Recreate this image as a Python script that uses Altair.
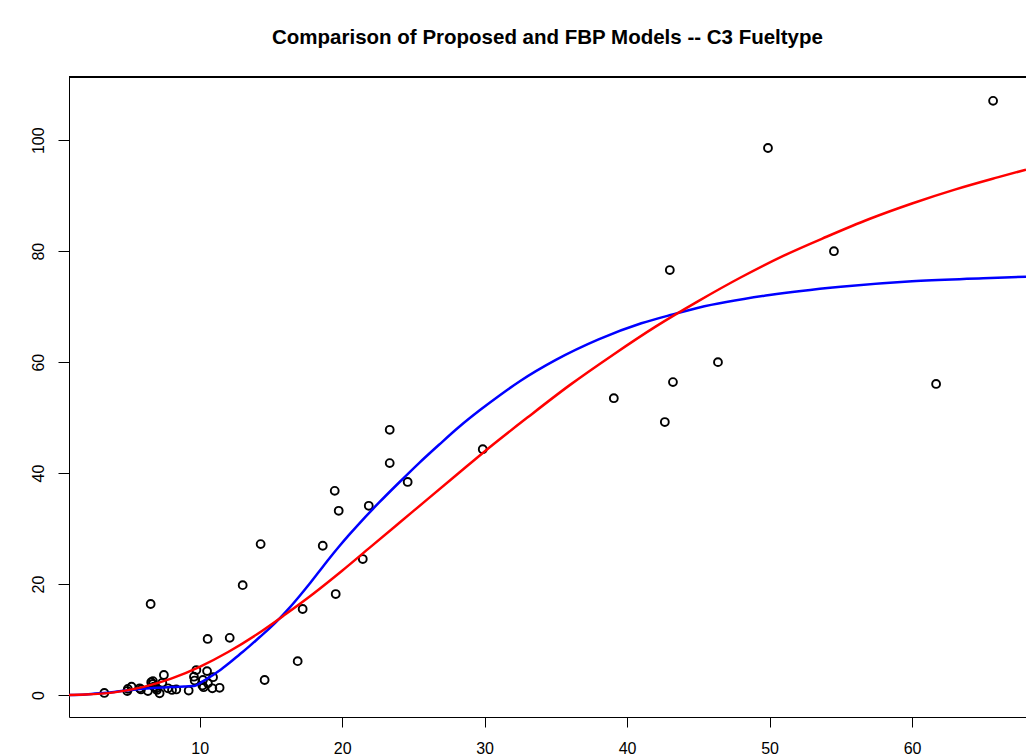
import altair as alt
import pandas as pd

# Observed points (x, y)
obs_x = [65.69, 49.89, 54.52, 43.0, 46.38, 61.69, 43.22, 39.07, 42.65, 29.87,
         23.34, 23.34, 24.6, 19.48, 19.76, 21.87, 18.64, 14.28, 21.45, 13.02,
         19.55, 17.23, 16.88, 14.56, 6.56, 10.56, 12.11,
         3.31, 4.92, 4.96, 5.22, 5.88, 5.79, 6.37, 6.72, 6.79, 6.96, 7.19, 6.6,
         7.49, 7.38, 7.78, 8.06, 8.36, 9.23, 9.6, 9.77, 9.65, 10.19, 10.28,
         10.52, 10.94, 10.89, 10.58, 11.4, 10.23, 7.0, 6.72]
obs_y = [107.1, 98.6, 80.0, 76.6, 60.0, 56.07, 56.4, 53.5, 49.2, 44.3,
         47.8, 41.8, 38.4, 36.8, 33.2, 34.1, 26.9, 27.2, 24.5, 19.8,
         18.2, 15.5, 6.1, 2.7, 16.4, 10.1, 10.3,
         0.36, 0.7, 1.1, 1.5, 1.0, 1.2, 0.7, 2.0, 1.5, 1.2, 0.3, 2.3,
         3.6, 2.2, 1.2, 0.9, 1.0, 0.8, 3.3, 4.5, 2.6, 1.7, 1.4,
         4.3, 3.2, 1.2, 2.1, 1.3, 2.7, 0.9, 2.5]

# Proposed model curve (blue)
blue_x = [0.83, 2, 3, 4, 5, 6, 7, 8, 9, 9.6, 10, 10.5, 11, 11.4, 12.1, 12.8,
          13.5, 14.2, 14.9, 15.65, 16.3, 17.0, 17.7, 18.4, 19.1, 19.8, 20.5,
          21.2, 22.6, 24.0, 25.4, 26.8, 28.2, 29.7, 31.0, 32.5, 35, 38, 41,
          43.2, 45, 50, 55, 60, 65, 68]
blue_y = [0.0, 0.1, 0.3, 0.55, 0.85, 1.1, 1.3, 1.45, 1.55, 1.6, 2.1, 2.9, 3.7,
          4.4, 5.8, 7.3, 8.8, 10.4, 12.0, 13.9, 15.7, 17.8, 20.0, 22.3, 24.6,
          26.8, 28.9, 30.9, 34.7, 38.3, 41.8, 45.1, 48.3, 51.4, 53.9, 56.6,
          60.4, 64.1, 67.0, 68.6, 69.8, 72.1, 73.6, 74.6, 75.1, 75.4]

# FBP model curve (red)
red_x = [0.83, 2, 4, 6, 8, 10, 12, 14, 16, 18, 20, 22, 24, 26, 28, 30, 33,
         36, 39, 42, 45, 48, 51, 54, 57, 60, 63, 66, 68]
red_y = [0.0, 0.07, 0.47, 1.41, 2.94, 5.07, 7.75, 10.9, 14.5, 18.3, 22.4,
         26.7, 31.0, 35.3, 39.6, 43.9, 50.0, 55.9, 61.3, 66.4, 71.0, 75.3,
         79.2, 82.6, 85.8, 88.6, 91.1, 93.3, 94.7]

x_ticks = [10, 20, 30, 40, 50, 60]
y_ticks = [0, 20, 40, 60, 80, 100]

W, H = 957, 640
FONT = "Liberation Sans"

xs = alt.Scale(domain=[0.83, 68.0], nice=False, zero=False)
ys = alt.Scale(domain=[-3.97, 111.4], nice=False, zero=False)

x_axis = alt.Axis(values=x_ticks, title=None, grid=False, tickSize=10,
                  labelFontSize=16, labelFont=FONT, labelColor="black",
                  labelPadding=13, domainColor="black", tickColor="black",
                  labelFlush=False)
y_axis = alt.Axis(values=y_ticks, title=None, grid=False, tickSize=11,
                  labelFontSize=16, labelFont=FONT, labelColor="black",
                  labelAngle=-90, labelAlign="center", labelBaseline="bottom",
                  labelPadding=12, domainColor="black", tickColor="black",
                  labelFlush=False)

pts = pd.DataFrame({"x": obs_x, "y": obs_y})
blue = pd.DataFrame({"x": blue_x, "y": blue_y})
red = pd.DataFrame({"x": red_x, "y": red_y})

points = alt.Chart(pts).mark_point(shape="circle", filled=False, color="black",
                                   size=62, strokeWidth=1.9, opacity=1).encode(
    x=alt.X("x:Q", scale=xs, axis=x_axis),
    y=alt.Y("y:Q", scale=ys, axis=y_axis),
)

blue_line = alt.Chart(blue).mark_line(color="#0000FF", strokeWidth=2.5,
                                      interpolate="monotone", clip=True).encode(
    x=alt.X("x:Q", scale=xs), y=alt.Y("y:Q", scale=ys))

red_line = alt.Chart(red).mark_line(color="#FF0000", strokeWidth=2.5,
                                    interpolate="monotone", clip=True).encode(
    x=alt.X("x:Q", scale=xs), y=alt.Y("y:Q", scale=ys))

top_rule = alt.Chart(pts).mark_rule(color="black", strokeWidth=1).encode(
    x=alt.value(0), x2=alt.value(W), y=alt.value(0))

chart = alt.layer(points, blue_line, red_line, top_rule).properties(
    width=W, height=H,
    title=alt.TitleParams("Comparison of Proposed and FBP Models -- C3 Fueltype",
                          font=FONT, fontSize=20.5, fontWeight="bold",
                          color="black", anchor="middle", offset=28),
    autosize=alt.AutoSizeParams(type="none"),
    padding={"left": 69, "top": 77, "right": 0, "bottom": 38},
    background="white",
).configure_view(stroke=None)

chart.save("out.html", embed_options={"renderer": "svg", "actions": False})
